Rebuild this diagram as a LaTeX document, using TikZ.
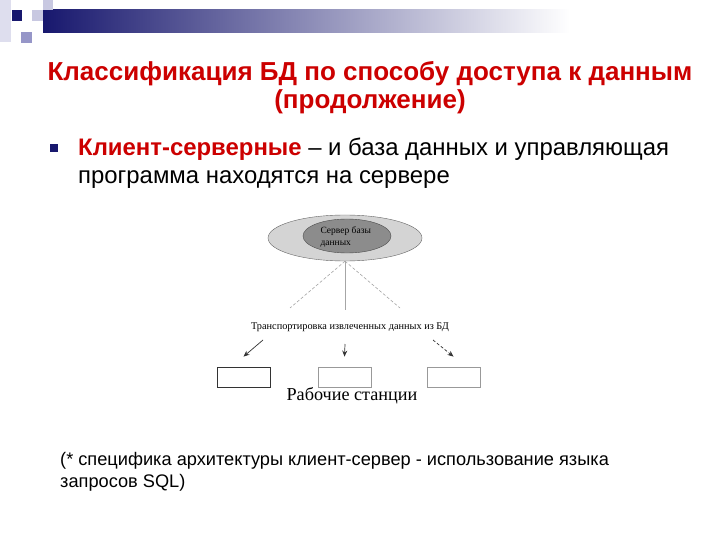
\documentclass[tikz,border=0pt]{standalone}
\usepackage{fontspec}
\setmainfont{Liberation Sans}
\newfontfamily\diagserif{Liberation Serif}
\usetikzlibrary{arrows.meta,shapes.geometric,calc}
\definecolor{titlered}{RGB}{204,0,0}
\definecolor{navy}{RGB}{24,24,110}
\definecolor{lavA}{RGB}{222,222,238}
\definecolor{lavB}{RGB}{150,150,200}
\definecolor{lavC}{RGB}{200,200,225}
\definecolor{outerfill}{RGB}{212,212,212}
\definecolor{innerfill}{RGB}{140,140,140}
\tikzset{
  wsbox/.style={draw=#1, line width=0.8pt, minimum width=53, minimum height=20, inner sep=0pt},
  connline/.style={draw=gray!70, line width=0.6pt},
  connarrow/.style={draw=black!80, line width=0.7pt, -{Stealth[length=6pt,width=5pt]}},
  smallserif/.style={font=\diagserif\fontsize{9.5}{11.5}\selectfont},
}
\begin{document}
\begin{tikzpicture}[x=1pt,y=-1pt]
\useasboundingbox (0,0) rectangle (720,540);
\fill[white] (0,0) rectangle (720,540);
% decorations
\fill[lavA] (0,0) rectangle (11,42);
\shade[left color=navy, right color=white] (43,10) rectangle (570,33);
\fill[lavC] (32,10) rectangle (43,21);
\fill[navy] (12,10) rectangle (22,21);
\fill[lavB] (21,32) rectangle (32,43);
\fill[lavC] (43,0) rectangle (53,10);
% title
\node[text=titlered, font=\bfseries\fontsize{26}{28}\selectfont, align=center] (title) at (370,88)
  {Классификация БД по способу доступа к данным\\(продолжение)};
% bullet
\node[fill=navy, minimum size=8pt, inner sep=0pt] (bullet) at (54,148) {};
\node[anchor=base west, font=\fontsize{23.9}{28}\selectfont, inner sep=0pt] (line1) at (78,156)
  {\textcolor{titlered}{\bfseries Клиент-серверные} – и база данных и управляющая};
\node[anchor=base west, font=\fontsize{23.9}{28}\selectfont, inner sep=0pt] (line2) at (78,184)
  {программа находятся на сервере};
% diagram
\node[ellipse, draw=black!60, fill=outerfill, minimum width=154pt, minimum height=46pt, inner sep=0pt] (outer) at (345,238) {};
\node[ellipse, draw=black!70, fill=innerfill, minimum width=88pt, minimum height=34pt, inner sep=0pt] (inner) at (347,236) {};
\node[smallserif, align=left, anchor=west] (srv) at (317,237) {Сервер базы\\данных};
\coordinate (apex) at (outer.south);
\coordinate (lend) at (290,308);
\coordinate (mend) at (345,310);
\coordinate (rend) at (400,308);
\draw[connline, densely dashed] (apex) -- (lend);
\draw[connline] (apex) -- (mend);
\draw[connline, densely dashed] (apex) -- (rend);
\node[font=\diagserif\fontsize{10.3}{12}\selectfont] (transport) at (350,327) {Транспортировка извлеченных данных из БД};
% workstations
\node[wsbox=black!80] (box1) at (243.5,377) {};
\node[wsbox=black!40] (box2) at (344.5,377) {};
\node[wsbox=black!40] (box3) at (453.5,377) {};
\coordinate (a1) at (263,340);
\coordinate (a2) at (345,344);
\coordinate (a3) at (433,340);
\draw[connarrow] (a1) -- ($(box1.north)+(0,-10)$);
\draw[connarrow] (a2) -- ($(box2.north)+(0,-10)$);
\draw[connarrow, densely dashed] (a3) -- ($(box3.north)+(0,-10)$);
\node[font=\diagserif\fontsize{18.2}{20}\selectfont] (ws) at (352,396) {Рабочие станции};
% footnote
\node[anchor=base west, font=\fontsize{18.2}{22}\selectfont, inner sep=0pt, align=left] (foot1) at (60,465)
  {(* специфика архитектуры клиент-сервер - использование языка};
\node[anchor=base west, font=\fontsize{18.2}{22}\selectfont, inner sep=0pt] (foot2) at (60,487)
  {запросов SQL)};
\end{tikzpicture}
\end{document}
